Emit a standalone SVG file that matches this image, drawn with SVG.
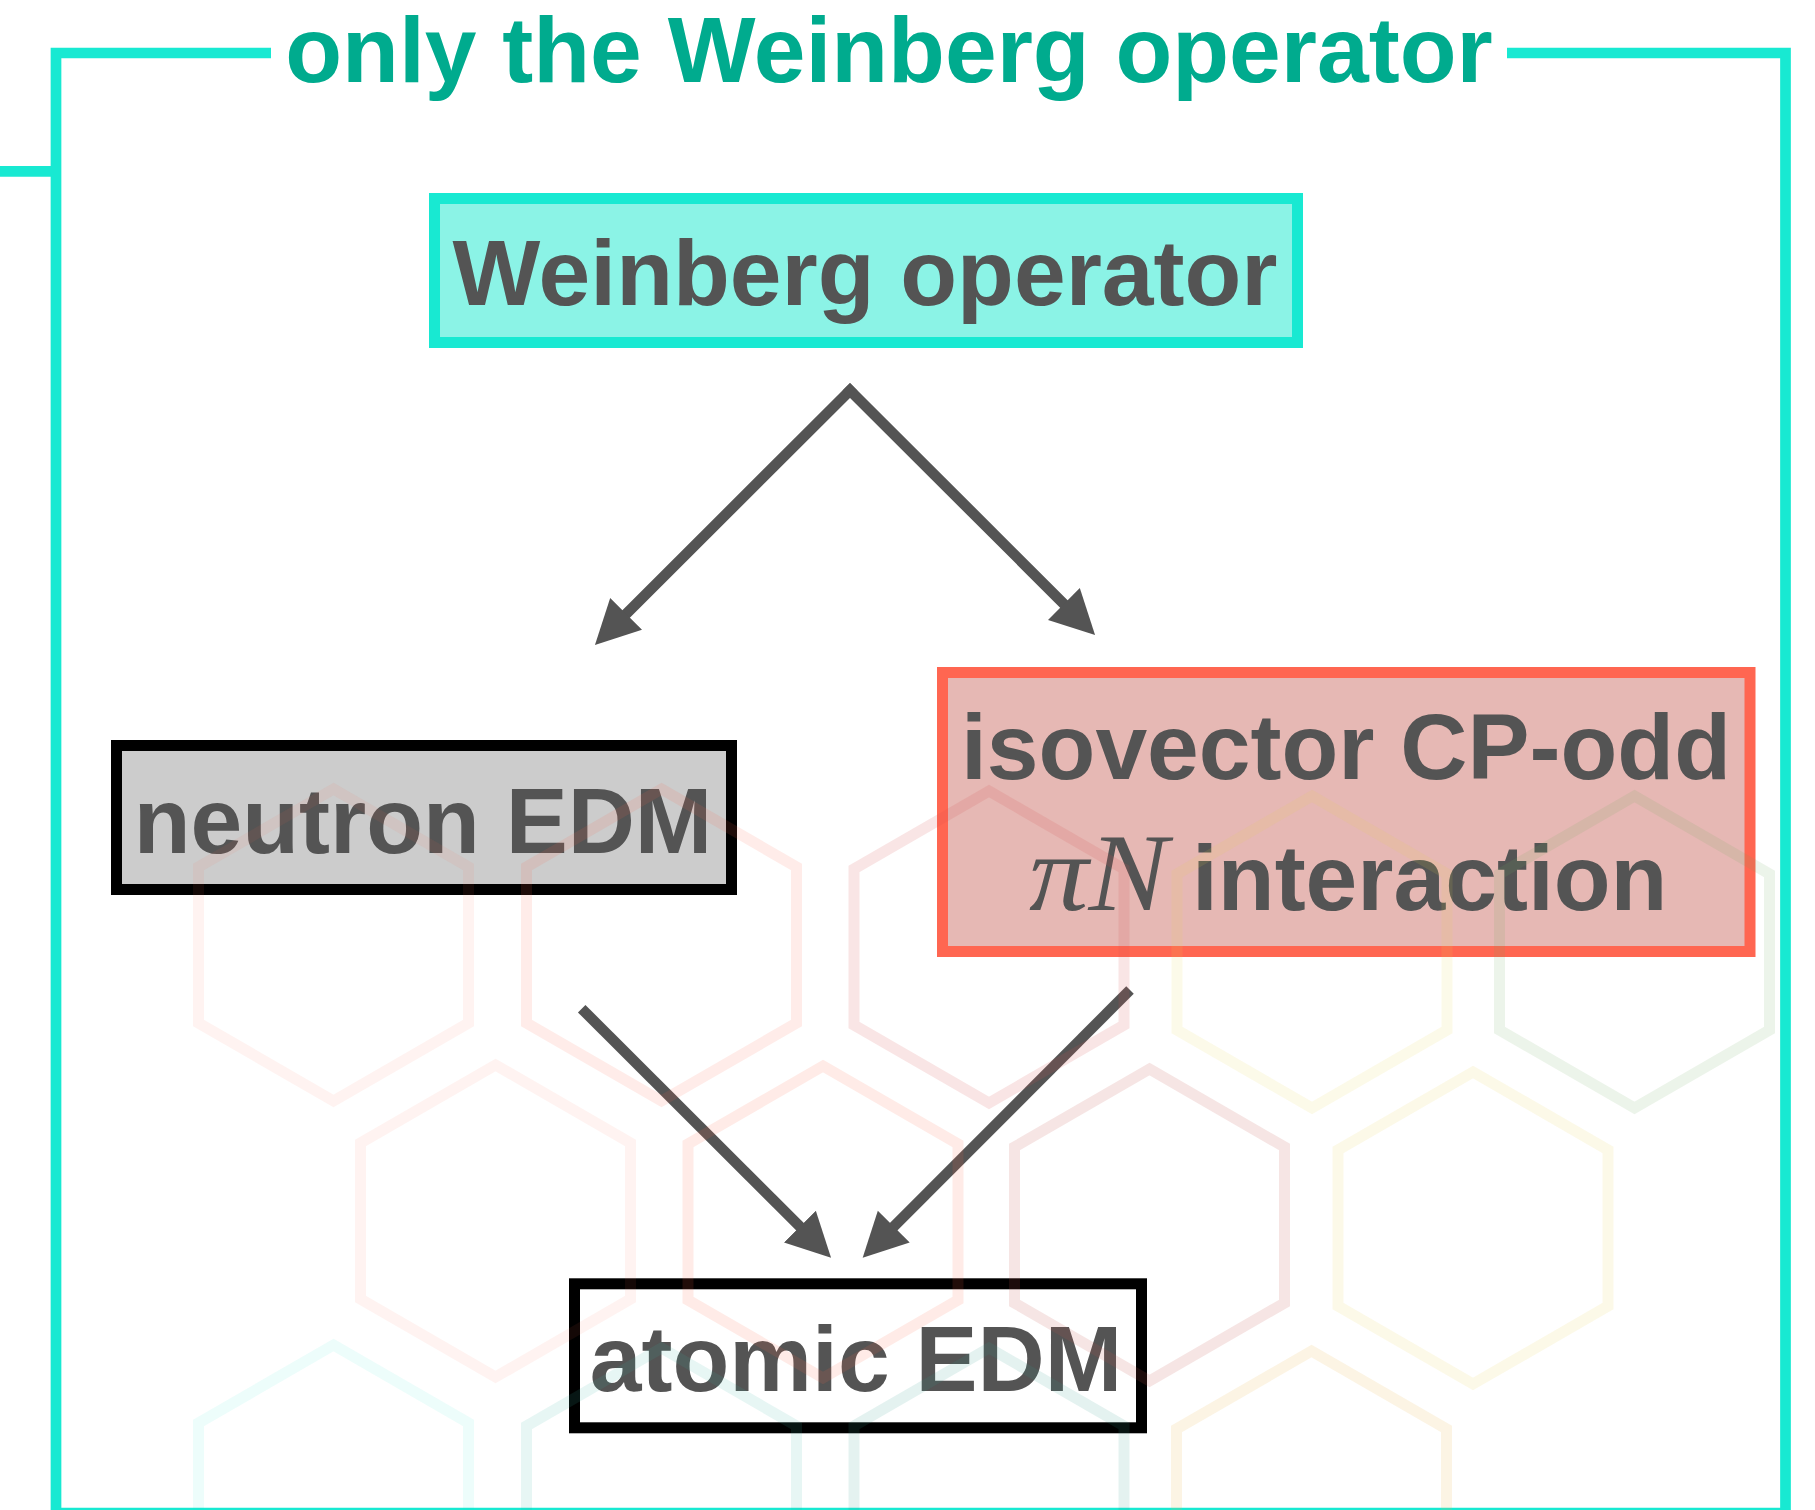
<svg xmlns="http://www.w3.org/2000/svg" xmlns:xlink="http://www.w3.org/1999/xlink" width="1815" height="1510" viewBox="0 0 1815 1510">
  <style>
    .frame { fill: none; stroke: #18E9D2; stroke-width: 10.7; stroke-linejoin: miter; }
    .title { font-family: "Liberation Sans", Arial, sans-serif; font-weight: bold; font-size: 93px; fill: #00AB8E; }
    .label { font-family: "Liberation Sans", Arial, sans-serif; font-weight: bold; font-size: 93px; fill: #545454; }
    .math { font-family: "Liberation Serif", "Times New Roman", serif; font-style: italic; font-size: 110px; fill: #545454; }
    .box { stroke-width: 11; }
    .weinberg { fill: #8BF3E6; stroke: #18E9D2; }
    .neutron { fill: #CCCCCC; stroke: #000000; }
    .isovector { fill: #E6B8B4; stroke: #FF6651; }
    .atomic { fill: #FFFFFF; stroke: #000000; }
    .edge { fill: none; stroke: #545454; stroke-width: 10.6; stroke-linecap: square; }
    .edge-end { fill: none; stroke: #545454; stroke-width: 10.6; stroke-linecap: butt; }
    .hex { fill: none; stroke-width: 11; stroke-linejoin: miter; }
  </style>
  <defs>
    <marker id="arrow" markerUnits="userSpaceOnUse" viewBox="0 -25 50 50" markerWidth="50" markerHeight="50" refX="24" refY="0" orient="auto">
      <polygon points="0,-22.5 44,0 0,22.5" fill="#545454"/>
    </marker>
    <polygon id="hexagon" points="0,-156 135,-78 135,78 0,156 -135,78 -135,-78"/>
  </defs>

  <rect width="1815" height="1510" fill="#FFFFFF"/>

  <!-- outer frame with title gap and a stub on the left -->
  <g id="frame">
    <path class="frame" d="M 271,53 H 56 V 1513 H 1785.5 V 53 H 1507"/>
    <path class="frame" d="M 0,171.3 H 56"/>
    <text class="title" x="889" y="82" text-anchor="middle">only the Weinberg operator</text>
  </g>

  <!-- connectors -->
  <g id="connectors">
    <path id="edge-weinberg-neutron" class="edge" d="M 850,390.5 L 609.1,630.9" marker-end="url(#arrow)"/>
    <path id="edge-weinberg-isovector" class="edge" d="M 850,390.5 L 1080.9,620.9" marker-end="url(#arrow)"/>
    <path id="edge-neutron-atomic" class="edge-end" d="M 581.7,1008.7 L 816.9,1243.6" marker-end="url(#arrow)"/>
    <path id="edge-isovector-atomic" class="edge-end" d="M 1130,990 L 876.8,1243.6" marker-end="url(#arrow)"/>
  </g>

  <!-- nodes -->
  <g id="node-weinberg">
    <rect class="box weinberg" x="434.5" y="198.5" width="863" height="144"/>
    <text class="label" x="865" y="305" text-anchor="middle">Weinberg operator</text>
  </g>

  <g id="node-neutron">
    <rect class="box neutron" x="116.5" y="745.5" width="615" height="144"/>
    <text class="label" x="423" y="853" text-anchor="middle">neutron EDM</text>
  </g>

  <g id="node-isovector">
    <rect class="box isovector" x="942.5" y="672.5" width="807.5" height="279"/>
    <text class="label" x="1346" y="779" text-anchor="middle">isovector CP-odd</text>
    <text class="math" x="1029" y="910" textLength="139" lengthAdjust="spacingAndGlyphs">πN</text>
    <text class="label" x="1192" y="910">interaction</text>
  </g>

  <g id="node-atomic">
    <rect class="box atomic" x="574.5" y="1283.8" width="567" height="144"/>
    <text class="label" x="856" y="1391" text-anchor="middle">atomic EDM</text>
  </g>

  <!-- translucent honeycomb overlay -->
  <g id="honeycomb" class="hex">
    <use xlink:href="#hexagon" x="333.5" y="945" stroke="#FF6347" stroke-opacity="0.08"/>
    <use xlink:href="#hexagon" x="661.5" y="945" stroke="#FF6347" stroke-opacity="0.12"/>
    <use xlink:href="#hexagon" x="989" y="947" stroke="#D9534F" stroke-opacity="0.15"/>
    <use xlink:href="#hexagon" x="1312" y="952" stroke="#E8D44D" stroke-opacity="0.12"/>
    <use xlink:href="#hexagon" x="1634.5" y="952" stroke="#6BAA5A" stroke-opacity="0.13"/>

    <use xlink:href="#hexagon" x="495.5" y="1221" stroke="#FF6347" stroke-opacity="0.08"/>
    <use xlink:href="#hexagon" x="823" y="1222" stroke="#FF6347" stroke-opacity="0.13"/>
    <use xlink:href="#hexagon" x="1149.5" y="1225" stroke="#C0504D" stroke-opacity="0.15"/>
    <use xlink:href="#hexagon" x="1473" y="1228" stroke="#E8D44D" stroke-opacity="0.13"/>

    <use xlink:href="#hexagon" x="333.5" y="1501" stroke="#17E8D0" stroke-opacity="0.08"/>
    <use xlink:href="#hexagon" x="661.5" y="1504" stroke="#3CB8A6" stroke-opacity="0.12"/>
    <use xlink:href="#hexagon" x="989" y="1504" stroke="#2E9E8E" stroke-opacity="0.13"/>
    <use xlink:href="#hexagon" x="1311.5" y="1507" stroke="#E8B84D" stroke-opacity="0.15"/>
  </g>
</svg>
